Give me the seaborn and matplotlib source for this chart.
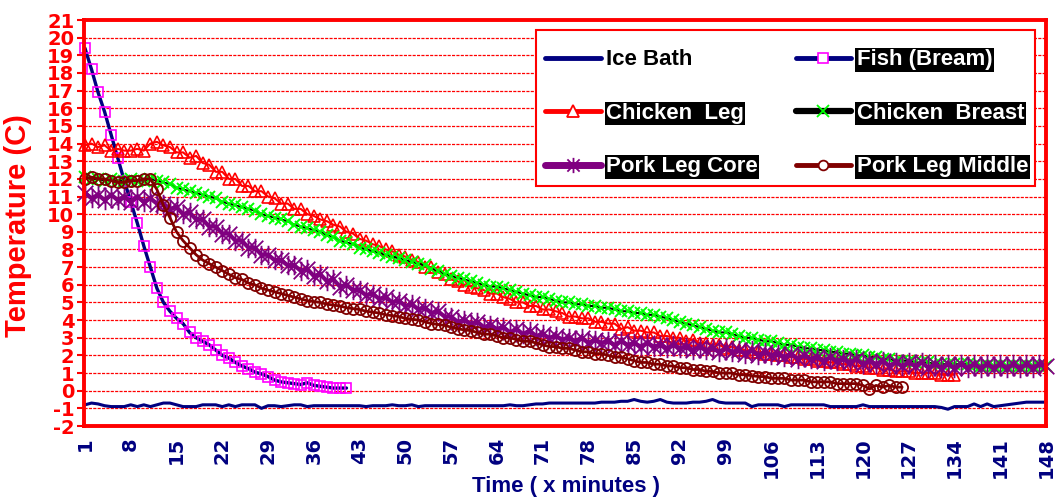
import numpy as np
import pandas as pd
import matplotlib
matplotlib.use("Agg")
import matplotlib.pyplot as plt
import seaborn as sns
from matplotlib.lines import Line2D
from matplotlib.path import Path
from matplotlib.patches import Rectangle

# ---------------- data ----------------
minutes = list(range(1, 149))
xtick_labels = list(range(1, 149, 7))
ytick_values = list(range(-2, 22))

ice_bath = [
    -0.8, -0.7, -0.75, -0.85, -0.9, -0.9, -0.9, -0.8, -0.9, -0.8,
    -0.9, -0.8, -0.7, -0.7, -0.8, -0.9, -0.9, -0.9, -0.8, -0.8,
    -0.8, -0.9, -0.8, -0.9, -0.8, -0.8, -0.8, -1.0, -0.85, -0.85,
    -0.9, -0.85, -0.8, -0.8, -0.9, -0.85, -0.85, -0.85, -0.85, -0.85,
    -0.85, -0.85, -0.85, -0.9, -0.85, -0.85, -0.85, -0.8, -0.85, -0.85,
    -0.8, -0.9, -0.85, -0.85, -0.85, -0.85, -0.85, -0.85, -0.85, -0.85,
    -0.85, -0.85, -0.85, -0.85, -0.85, -0.8, -0.85, -0.85, -0.8, -0.75,
    -0.75, -0.7, -0.7, -0.7, -0.7, -0.7, -0.7, -0.7, -0.7, -0.65,
    -0.65, -0.65, -0.6, -0.6, -0.5, -0.6, -0.65, -0.6, -0.5, -0.65,
    -0.7, -0.7, -0.7, -0.65, -0.65, -0.6, -0.5, -0.65, -0.7, -0.7,
    -0.7, -0.7, -0.9, -0.8, -0.8, -0.8, -0.8, -0.9, -0.8, -0.8,
    -0.8, -0.8, -0.8, -0.8, -0.9, -0.9, -0.9, -0.9, -0.9, -0.8,
    -0.9, -0.9, -0.9, -0.9, -0.9, -0.9, -0.9, -0.9, -0.9, -0.9,
    -0.9, -0.95, -1.05, -0.9, -0.9, -0.9, -0.75, -0.9, -0.75, -0.9,
    -0.85, -0.8, -0.75, -0.7, -0.65, -0.65, -0.65, -0.65,
]

fish_bream = [
    19.4, 18.2, 16.9, 15.8, 14.5, 13.2, 11.9, 10.7, 9.5, 8.2,
    7.0, 5.8, 5.0, 4.5, 4.1, 3.8, 3.3, 3.0, 2.8, 2.6,
    2.3, 2.0, 1.85, 1.6, 1.4, 1.25, 1.05, 0.95, 0.8, 0.6,
    0.5, 0.45, 0.4, 0.35, 0.45, 0.3, 0.25, 0.2, 0.15, 0.15,
    0.15,
]

chicken_leg = [
    13.9, 14.0, 13.8, 13.9, 13.6, 13.7, 13.6, 13.6, 13.7, 13.6,
    14.0, 14.1, 13.9, 13.8, 13.5, 13.5, 13.2, 13.3, 12.9, 12.8,
    12.4, 12.4, 12.0, 12.0, 11.6, 11.6, 11.3, 11.3, 11.0, 10.9,
    10.6, 10.6, 10.3, 10.3, 10.0, 9.9, 9.7, 9.6, 9.4, 9.3,
    9.0, 8.9, 8.6, 8.5, 8.3, 8.2, 8.0, 7.9, 7.7, 7.6,
    7.4, 7.3, 7.0, 7.0, 6.7, 6.6, 6.3, 6.2, 6.0, 5.9,
    5.8, 5.7, 5.5, 5.5, 5.3, 5.2, 5.0, 5.0, 4.8, 4.8,
    4.6, 4.6, 4.5, 4.4, 4.2, 4.2, 4.1, 4.1, 3.9, 3.9,
    3.8, 3.8, 3.5, 3.6, 3.4, 3.4, 3.3, 3.3, 3.1, 3.1,
    3.0, 3.0, 2.8, 2.9, 2.7, 2.7, 2.6, 2.6, 2.4, 2.5,
    2.3, 2.3, 2.2, 2.2, 2.1, 2.1, 2.0, 2.0, 1.9, 1.9,
    1.8, 1.8, 1.7, 1.7, 1.6, 1.6, 1.5, 1.5, 1.4, 1.4,
    1.3, 1.3, 1.2, 1.2, 1.1, 1.1, 1.1, 1.0, 1.0, 1.0,
    1.0, 0.9, 0.9, 0.9,
]

chicken_breast = [
    12.1, 12.0, 12.0, 11.9, 12.0, 11.9, 11.9, 12.0, 11.9, 11.9,
    12.0, 11.9, 11.8, 11.7, 11.5, 11.4, 11.3, 11.2, 11.1, 11.0,
    10.9, 10.7, 10.6, 10.5, 10.4, 10.3, 10.2, 10.0, 9.9, 9.8,
    9.7, 9.6, 9.4, 9.3, 9.2, 9.1, 9.0, 8.8, 8.7, 8.5,
    8.4, 8.3, 8.1, 8.0, 7.9, 7.8, 7.7, 7.6, 7.5, 7.4,
    7.3, 7.2, 7.1, 6.9, 6.8, 6.6, 6.5, 6.4, 6.3, 6.2,
    6.1, 6.0, 5.9, 5.9, 5.8, 5.7, 5.6, 5.5, 5.4, 5.3,
    5.3, 5.2, 5.1, 5.0, 5.0, 4.9, 4.9, 4.8, 4.8, 4.7,
    4.7, 4.6, 4.5, 4.5, 4.4, 4.4, 4.3, 4.3, 4.2, 4.1,
    4.0, 3.9, 3.8, 3.7, 3.6, 3.5, 3.4, 3.3, 3.3, 3.2,
    3.1, 3.0, 3.0, 2.9, 2.8, 2.8, 2.7, 2.6, 2.6, 2.5,
    2.4, 2.4, 2.3, 2.3, 2.2, 2.2, 2.1, 2.1, 2.0, 2.0,
    1.9, 1.9, 1.8, 1.8, 1.7, 1.7, 1.7, 1.6, 1.6, 1.6,
    1.5, 1.5, 1.5, 1.5, 1.5, 1.5, 1.4, 1.4, 1.4, 1.4,
    1.4, 1.4, 1.4, 1.4, 1.4, 1.4, 1.4, 1.4,
]

pork_leg_core = [
    11.2, 10.9, 11.1, 10.8, 11.1, 10.8, 11.0, 10.7, 11.0, 10.7,
    10.9, 10.6, 10.6, 10.3, 10.4, 10.0, 10.1, 9.7, 9.7, 9.3,
    9.3, 8.9, 8.9, 8.5, 8.5, 8.1, 8.1, 7.7, 7.7, 7.4,
    7.4, 7.1, 7.1, 6.8, 6.9, 6.5, 6.6, 6.2, 6.3, 5.9,
    6.0, 5.7, 5.7, 5.4, 5.5, 5.2, 5.3, 5.0, 5.1, 4.8,
    4.9, 4.6, 4.7, 4.4, 4.5, 4.2, 4.2, 3.9, 4.0, 3.8,
    3.9, 3.6, 3.7, 3.5, 3.6, 3.3, 3.5, 3.2, 3.4, 3.1,
    3.2, 3.0, 3.1, 2.9, 3.0, 2.8, 3.0, 2.7, 2.9, 2.7,
    2.8, 2.6, 2.8, 2.6, 2.7, 2.5, 2.7, 2.5, 2.6, 2.4,
    2.6, 2.4, 2.5, 2.3, 2.5, 2.3, 2.4, 2.2, 2.4, 2.2,
    2.3, 2.1, 2.3, 2.0, 2.2, 2.0, 2.1, 1.9, 2.1, 1.8,
    2.0, 1.8, 1.9, 1.7, 1.9, 1.7, 1.8, 1.6, 1.8, 1.5,
    1.7, 1.5, 1.7, 1.4, 1.6, 1.4, 1.6, 1.4, 1.6, 1.3,
    1.5, 1.3, 1.5, 1.3, 1.5, 1.3, 1.5, 1.3, 1.5, 1.3,
    1.5, 1.3, 1.5, 1.3, 1.5, 1.3, 1.5, 1.4,
]

pork_leg_middle = [
    12.0, 12.1, 12.0, 12.0, 11.9, 11.8, 11.8, 11.9, 11.9, 12.0,
    12.0, 11.4, 10.5, 9.8, 9.0, 8.5, 8.1, 7.7, 7.4, 7.2,
    7.0, 6.8, 6.6, 6.4, 6.3, 6.1, 6.0, 5.8, 5.7, 5.6,
    5.5, 5.4, 5.3, 5.2, 5.1, 5.05, 5.0, 4.9, 4.85, 4.8,
    4.7, 4.65, 4.6, 4.5, 4.45, 4.4, 4.3, 4.25, 4.2, 4.1,
    4.05, 4.0, 3.9, 3.8, 3.75, 3.7, 3.6, 3.5, 3.45, 3.4,
    3.3, 3.2, 3.2, 3.1, 3.0, 3.0, 2.9, 2.8, 2.8, 2.7,
    2.6, 2.5, 2.5, 2.4, 2.4, 2.3, 2.2, 2.2, 2.1, 2.1,
    2.0, 1.9, 1.9, 1.8, 1.7, 1.6, 1.6, 1.5, 1.5, 1.4,
    1.4, 1.3, 1.3, 1.2, 1.2, 1.1, 1.1, 1.0, 1.0, 1.0,
    0.9, 0.9, 0.85, 0.8, 0.8, 0.7, 0.7, 0.7, 0.6, 0.6,
    0.6, 0.5, 0.5, 0.5, 0.5, 0.4, 0.4, 0.4, 0.4, 0.3,
    0.1, 0.3, 0.2, 0.3, 0.2, 0.2,
]

series_names = ["Ice Bath", "Fish (Bream)", "Chicken  Leg",
                "Chicken  Breast", "Pork Leg Core", "Pork Leg Middle"]

# ---------------- style ----------------
NAVY = "#000080"
MAGENTA = "#FF00FF"
RED = "#FF0000"
GREEN = "#00FF00"
PURPLE = "#800080"
BROWN = "#800000"
# Excel-like star marker: an X with a vertical stroke
STAR = Path([(-1, -1), (1, 1), (-1, 1), (1, -1), (0, -1.25), (0, 1.25)],
            [Path.MOVETO, Path.LINETO, Path.MOVETO, Path.LINETO,
             Path.MOVETO, Path.LINETO])

styles = [
    dict(color=NAVY, linewidth=2.2),
    dict(color=NAVY, linewidth=2.4, marker="s", markersize=7.5,
         markeredgecolor=MAGENTA, markerfacecolor="none", markeredgewidth=1.2),
    dict(color=RED, linewidth=1.5, marker="^", markersize=8.5,
         markeredgecolor=RED, markerfacecolor="none", markeredgewidth=1.2),
    dict(color="black", linewidth=1.5, marker="x", markersize=9,
         markeredgecolor=GREEN, markerfacecolor="none", markeredgewidth=1.4),
    dict(color=PURPLE, linewidth=3.0, marker=STAR, markersize=14,
         markeredgecolor=PURPLE, markerfacecolor="none", markeredgewidth=1.3),
    dict(color=BROWN, linewidth=2.0, marker="o", markersize=8,
         markeredgecolor=BROWN, markerfacecolor="none", markeredgewidth=1.3),
]
all_values = [ice_bath, fish_bream, chicken_leg, chicken_breast,
              pork_leg_core, pork_leg_middle]

sns.set_theme(style="white")
plt.rcParams["font.family"] = ["DejaVu Sans"]

fig = plt.figure(figsize=(10.59, 4.99), dpi=100)
fig.patch.set_facecolor("white")
ax = fig.add_axes([84 / 1059, 1 - 426 / 499, 962 / 1059, 406 / 499])
ax.set_facecolor("white")

for name, vals, st in zip(series_names, all_values, styles):
    df = pd.DataFrame({"minute": minutes[:len(vals)], "temp": vals})
    sns.lineplot(data=df, x="minute", y="temp", ax=ax, estimator=None,
                 sort=False, legend=False, clip_on=False, **st)

ax.set_xlim(0.85, 148)
ax.set_ylim(-2, 21)
ax.set_yticks(ytick_values)
ax.set_yticklabels([str(v) for v in ytick_values])
ax.set_xticks(xtick_labels)
ax.set_xticklabels([str(v) for v in xtick_labels], rotation=90)

ax.yaxis.grid(True, color=RED, linestyle=(0, (2.5, 1)), linewidth=0.9)
ax.xaxis.grid(False)
ax.set_axisbelow(True)

for sp in ax.spines.values():
    sp.set_color(RED)
    sp.set_linewidth(2.8)
    sp.set_visible(True)

ax.tick_params(axis="y", colors=RED, length=5, width=1.5, direction="out",
               labelsize=14, pad=2, left=True)
ax.tick_params(axis="x", colors=NAVY, length=0, labelsize=14, pad=8)
for t in ax.get_yticklabels():
    t.set_fontweight("bold")
    t.set_color(RED)
for t in ax.get_xticklabels():
    t.set_fontweight("bold")
    t.set_color(NAVY)
    t.set_va("top")

ax.set_ylabel("Temperature (C)", color=RED, fontweight="bold", fontsize=21,
              family=["Liberation Sans", "DejaVu Sans"])
ax.yaxis.set_label_coords(-0.0686, 0.4926)
ax.yaxis.label.set_va("center")
ax.set_xlabel("Time ( x minutes )", color=NAVY, fontweight="bold", fontsize=16,
              family=["Liberation Sans", "DejaVu Sans"])
ax.xaxis.set_label_coords(0.501, -0.150)
ax.xaxis.label.set_va("center")

# legend box (drawn separately so its padding can match the original)
ax.add_patch(Rectangle((0.4699, 0.5911), 0.9886 - 0.4699, 0.9754 - 0.5911,
                       transform=ax.transAxes, facecolor="white",
                       edgecolor=RED, linewidth=1.5, zorder=4.9,
                       clip_on=False))

legend_handles = {
    "Ice Bath": Line2D([], [], color=NAVY, linewidth=3.5),
    "Fish (Bream)": Line2D([], [], color=NAVY, linewidth=3.5, marker="s",
                           markersize=7, markeredgecolor=MAGENTA,
                           markerfacecolor="white", markeredgewidth=1.2),
    "Chicken  Leg": Line2D([], [], color=RED, linewidth=3.5, marker="^",
                           markersize=8, markeredgecolor=RED,
                           markerfacecolor="white", markeredgewidth=1.3),
    "Chicken  Breast": Line2D([], [], color="black", linewidth=4.5, marker="x",
                              markersize=9, markeredgecolor=GREEN,
                              markeredgewidth=1.3),
    "Pork Leg Core": Line2D([], [], color=PURPLE, linewidth=5, marker=STAR,
                            markersize=11, markeredgecolor=PURPLE,
                            markeredgewidth=1.3),
    "Pork Leg Middle": Line2D([], [], color=BROWN, linewidth=3.5, marker="o",
                              markersize=7, markeredgecolor=BROWN,
                              markerfacecolor="white", markeredgewidth=1.3),
}
# matplotlib fills legend columns first; reorder so rows read like the original
leg_order = [0, 2, 4, 1, 3, 5]
names_ordered = [series_names[i] for i in leg_order]
leg = ax.legend([legend_handles[n] for n in names_ordered], names_ordered,
                ncol=2, loc="upper left",
                bbox_to_anchor=(0.4792, 0.9274),
                frameon=False, handlelength=2.5, handletextpad=0.25,
                labelspacing=1.46, borderpad=0.0, borderaxespad=0.0,
                columnspacing=1.7,
                prop=dict(family=["Liberation Sans", "DejaVu Sans"],
                          weight="bold", size=16))
leg.set_zorder(5)
for txt in leg.get_texts():
    if txt.get_text() == "Ice Bath":
        txt.set_color("black")
    else:
        txt.set_color("white")
        txt.set_bbox(dict(facecolor="black", edgecolor="none", pad=1.0))

fig.savefig("out.png", dpi=100, facecolor="white")
